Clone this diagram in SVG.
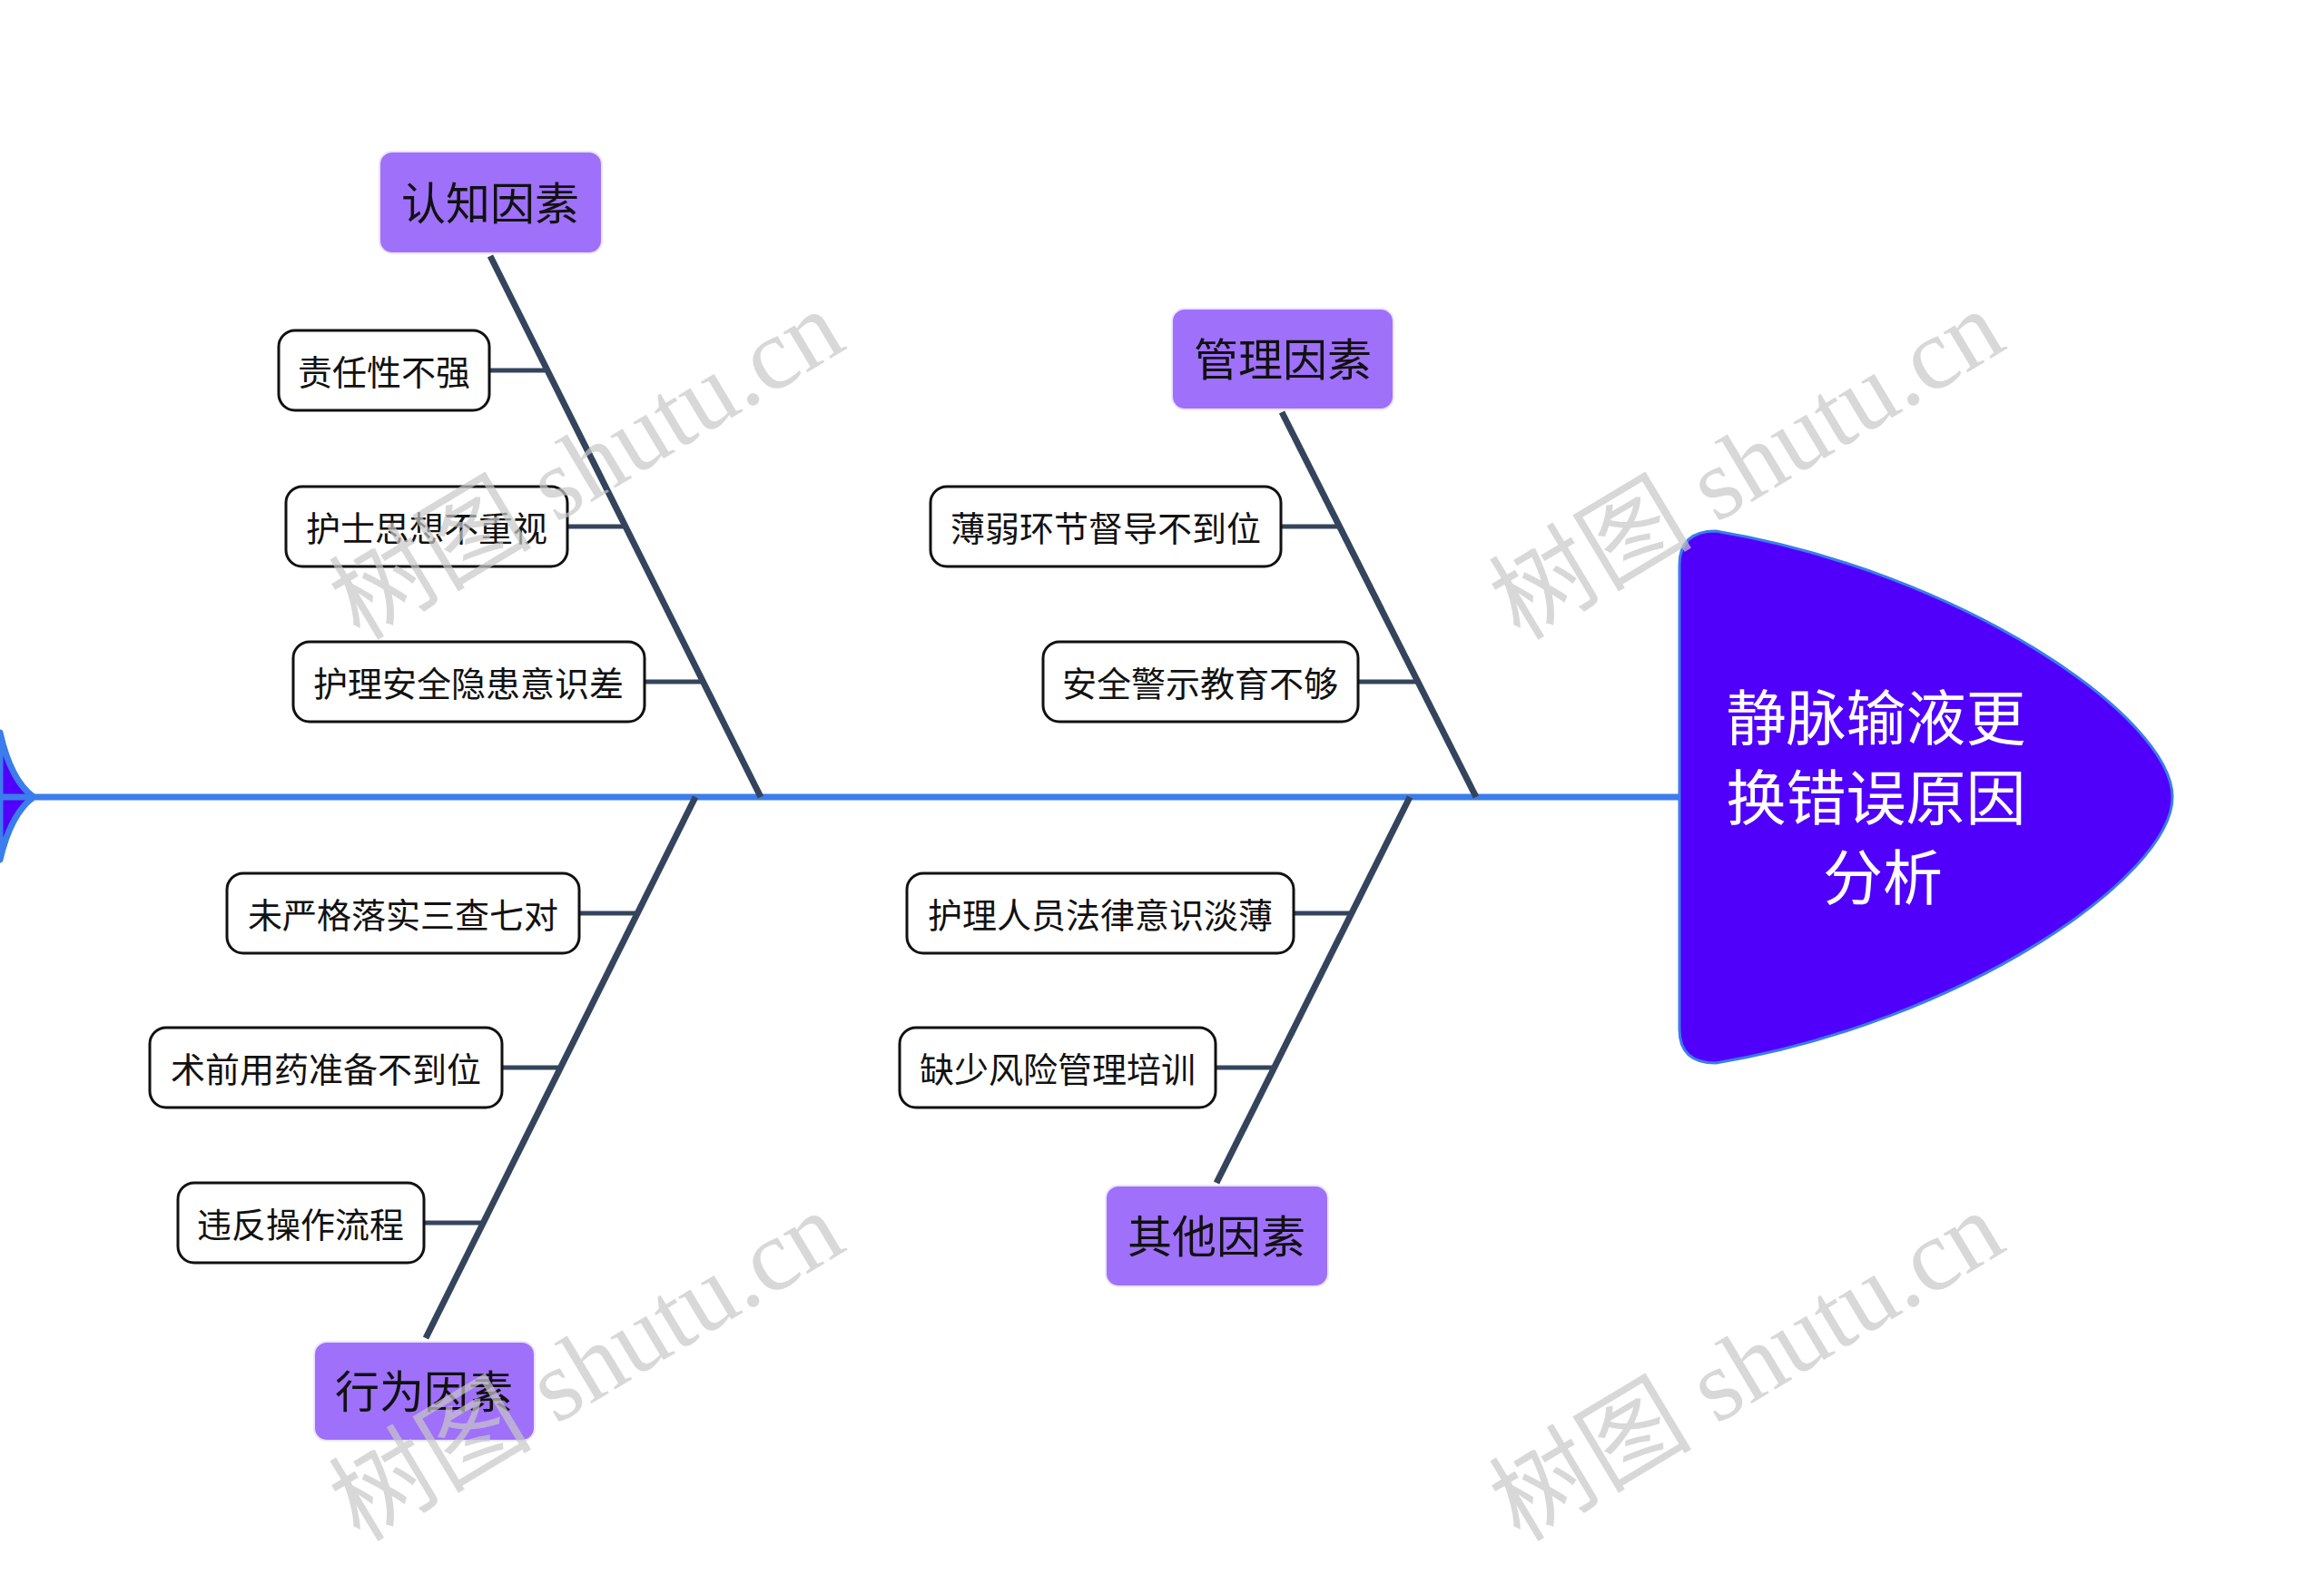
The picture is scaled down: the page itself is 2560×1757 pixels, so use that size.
<svg xmlns="http://www.w3.org/2000/svg" width="2560" height="1757" viewBox="0 0 2560 1757">
<style>
.cat rect{fill:#9f70fa;stroke:#ece4fd;stroke-width:2}
.cat text{font-family:"Noto Sans CJK SC","Noto Sans",sans-serif;font-size:49px;fill:#111;text-anchor:middle;dominant-baseline:central}
.leaf rect{fill:#fff;stroke:#111;stroke-width:3}
.leaf text{font-family:"Noto Sans CJK SC","Noto Sans",sans-serif;font-size:38px;fill:#111;text-anchor:middle;dominant-baseline:central}
.bone{stroke:#34445c;stroke-width:7;fill:none;stroke-linecap:butt}
.twig{stroke:#34445c;stroke-width:5;fill:none}
.wm{font-family:"Liberation Serif","Noto Sans CJK SC",serif;font-size:112px;fill:#c8c8c8;opacity:0.7;text-anchor:middle;dominant-baseline:central}
</style>
<rect width="2560" height="1757" fill="#fff"/>

<g id="tail">
<path d="M0,807 Q12,860 37,878 Q12,896 0,947 Z" fill="#5000fa" stroke="#3b7ded" stroke-width="7" stroke-linejoin="round"/>
</g>

<g id="connectors">
<line x1="0" y1="878" x2="1852" y2="878" stroke="#3b7ded" stroke-width="7"/>
<line class="bone" x1="540" y1="282" x2="838" y2="878"/>
<line class="bone" x1="1412" y1="454" x2="1626" y2="878"/>
<line class="bone" x1="469" y1="1474" x2="766" y2="878"/>
<line class="bone" x1="1340" y1="1303" x2="1553" y2="878"/>
<line class="twig" x1="539" y1="408" x2="603" y2="408"/>
<line class="twig" x1="625" y1="580" x2="689" y2="580"/>
<line class="twig" x1="710" y1="751" x2="775" y2="751"/>
<line class="twig" x1="1411" y1="580" x2="1475" y2="580"/>
<line class="twig" x1="1496" y1="751" x2="1561" y2="751"/>
<line class="twig" x1="638" y1="1006" x2="702" y2="1006"/>
<line class="twig" x1="553" y1="1176" x2="617" y2="1176"/>
<line class="twig" x1="467" y1="1347" x2="531" y2="1347"/>
<line class="twig" x1="1425" y1="1006" x2="1489" y2="1006"/>
<line class="twig" x1="1339" y1="1176" x2="1404" y2="1176"/>
</g>

<g id="head">
<path d="M1850,622 Q1850,585 1890,585 C2160,630 2393,790 2393,878 C2393,966 2160,1126 1890,1171 Q1850,1171 1850,1134 Z" fill="#5000fa" stroke="#3b7ded" stroke-width="3"/>
<text font-family="Noto Sans CJK SC,Noto Sans,sans-serif" font-size="66" fill="#fff" text-anchor="middle" dominant-baseline="central">
<tspan x="2074" y="786">静脉输液更</tspan>
<tspan x="2074" y="874">换错误原因</tspan>
<tspan x="2074" y="962">分析</tspan>
</text>
</g>

<g id="cat1" class="cat"><rect x="418" y="167" width="245" height="112" rx="14"/><text x="540" y="220">认知因素</text></g>
<g id="cat2" class="cat"><rect x="1291" y="340" width="244" height="111" rx="14"/><text x="1413" y="392">管理因素</text></g>
<g id="cat3" class="cat"><rect x="346" y="1478" width="243" height="109" rx="14"/><text x="467" y="1529">行为因素</text></g>
<g id="cat4" class="cat"><rect x="1218" y="1306" width="245" height="111" rx="14"/><text x="1340" y="1358">其他因素</text></g>

<g id="leaf1" class="leaf"><rect x="307" y="364" width="232" height="88" rx="18"/><text x="423" y="407">责任性不强</text></g>
<g id="leaf2" class="leaf"><rect x="315" y="536" width="310" height="88" rx="18"/><text x="470" y="579">护士思想不重视</text></g>
<g id="leaf3" class="leaf"><rect x="323" y="707" width="387" height="88" rx="18"/><text x="516" y="750">护理安全隐患意识差</text></g>
<g id="leaf4" class="leaf"><rect x="1025" y="536" width="386" height="88" rx="18"/><text x="1218" y="579">薄弱环节督导不到位</text></g>
<g id="leaf5" class="leaf"><rect x="1149" y="707" width="347" height="88" rx="18"/><text x="1322" y="750">安全警示教育不够</text></g>
<g id="leaf6" class="leaf"><rect x="250" y="962" width="388" height="88" rx="18"/><text x="444" y="1005">未严格落实三查七对</text></g>
<g id="leaf7" class="leaf"><rect x="165" y="1132" width="388" height="88" rx="18"/><text x="359" y="1175">术前用药准备不到位</text></g>
<g id="leaf8" class="leaf"><rect x="196" y="1303" width="271" height="88" rx="18"/><text x="331" y="1346">违反操作流程</text></g>
<g id="leaf9" class="leaf"><rect x="999" y="962" width="426" height="88" rx="18"/><text x="1212" y="1005">护理人员法律意识淡薄</text></g>
<g id="leaf10" class="leaf"><rect x="991" y="1132" width="348" height="88" rx="18"/><text x="1165" y="1175">缺少风险管理培训</text></g>

<g id="watermarks">
<text class="wm" transform="translate(646,512) rotate(-31)">树图 shutu.cn</text>
<text class="wm" transform="translate(1924,512) rotate(-31)">树图 shutu.cn</text>
<text class="wm" transform="translate(646,1505) rotate(-31)">树图 shutu.cn</text>
<text class="wm" transform="translate(1924,1505) rotate(-31)">树图 shutu.cn</text>
</g>
</svg>
